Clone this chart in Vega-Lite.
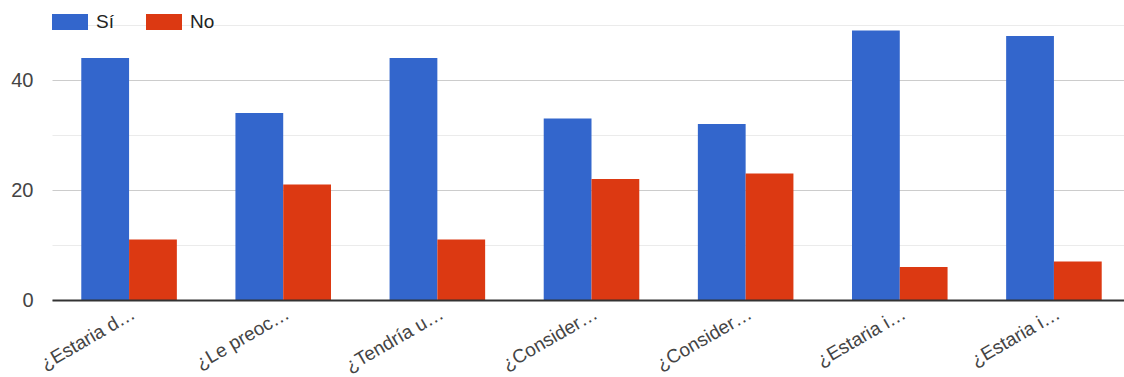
{
  "$schema": "https://vega.github.io/schema/vega-lite/v6.json",
  "autosize": {"type": "none"},
  "padding": {"left": 52, "top": 25, "right": 0, "bottom": 77},
  "width": 1079,
  "height": 275,
  "background": "white",
  "config": {
    "font": "Liberation Sans",
    "view": {"stroke": null}
  },
  "data": {
    "values": [
      {"pregunta": "¿Estaria d…|1", "respuesta": "Sí", "cantidad": 44},
      {"pregunta": "¿Estaria d…|1", "respuesta": "No", "cantidad": 11},
      {"pregunta": "¿Le preoc…|2", "respuesta": "Sí", "cantidad": 34},
      {"pregunta": "¿Le preoc…|2", "respuesta": "No", "cantidad": 21},
      {"pregunta": "¿Tendría u…|3", "respuesta": "Sí", "cantidad": 44},
      {"pregunta": "¿Tendría u…|3", "respuesta": "No", "cantidad": 11},
      {"pregunta": "¿Consider…|4", "respuesta": "Sí", "cantidad": 33},
      {"pregunta": "¿Consider…|4", "respuesta": "No", "cantidad": 22},
      {"pregunta": "¿Consider…|5", "respuesta": "Sí", "cantidad": 32},
      {"pregunta": "¿Consider…|5", "respuesta": "No", "cantidad": 23},
      {"pregunta": "¿Estaria i…|6", "respuesta": "Sí", "cantidad": 49},
      {"pregunta": "¿Estaria i…|6", "respuesta": "No", "cantidad": 6},
      {"pregunta": "¿Estaria i…|7", "respuesta": "Sí", "cantidad": 48},
      {"pregunta": "¿Estaria i…|7", "respuesta": "No", "cantidad": 7}
    ]
  },
  "mark": {"type": "bar"},
  "encoding": {
    "x": {
      "field": "pregunta",
      "type": "nominal",
      "sort": null,
      "scale": {"paddingInner": 0.38, "paddingOuter": 0.19},
      "axis": {
        "title": null,
        "labelExpr": "split(datum.label, '|')[0]",
        "labelAngle": -30,
        "labelAlign": "right",
        "labelBaseline": "top",
        "labelFontSize": 19,
        "labelColor": "#444444",
        "labelPadding": 4,
        "labelLimit": 250,
        "ticks": false,
        "domain": true,
        "domainColor": "#333333",
        "domainWidth": 2,
        "grid": false,
        "zindex": 1
      }
    },
    "xOffset": {
      "field": "respuesta",
      "type": "nominal",
      "sort": ["Sí", "No"],
      "scale": {"paddingInner": 0, "paddingOuter": 0}
    },
    "y": {
      "field": "cantidad",
      "type": "quantitative",
      "scale": {"domain": [0, 50], "nice": false},
      "axis": {
        "title": null,
        "values": [0, 10, 20, 30, 40, 50],
        "labelExpr": "datum.value % 20 == 0 ? datum.label : ''",
        "labelFontSize": 20,
        "labelColor": "#444444",
        "labelPadding": 19,
        "ticks": false,
        "domain": false,
        "gridColor": {"condition": {"test": "datum.value % 20 == 0", "value": "#cccccc"}, "value": "#ebebeb"},
        "gridWidth": 1
      }
    },
    "color": {
      "field": "respuesta",
      "type": "nominal",
      "sort": ["Sí", "No"],
      "scale": {"domain": ["Sí", "No"], "range": ["#3366cc", "#dc3912"]},
      "legend": {
        "title": null,
        "orient": "none",
        "legendX": 0,
        "legendY": -21,
        "direction": "horizontal",
        "symbolType": "M-1,-0.44H1V0.44H-1Z",
        "symbolSize": 1296,
        "symbolStrokeWidth": 0,
        "labelFontSize": 19,
        "labelColor": "#222222",
        "labelOffset": 8,
        "columnPadding": 32,
        "padding": 0
      }
    }
  }
}
